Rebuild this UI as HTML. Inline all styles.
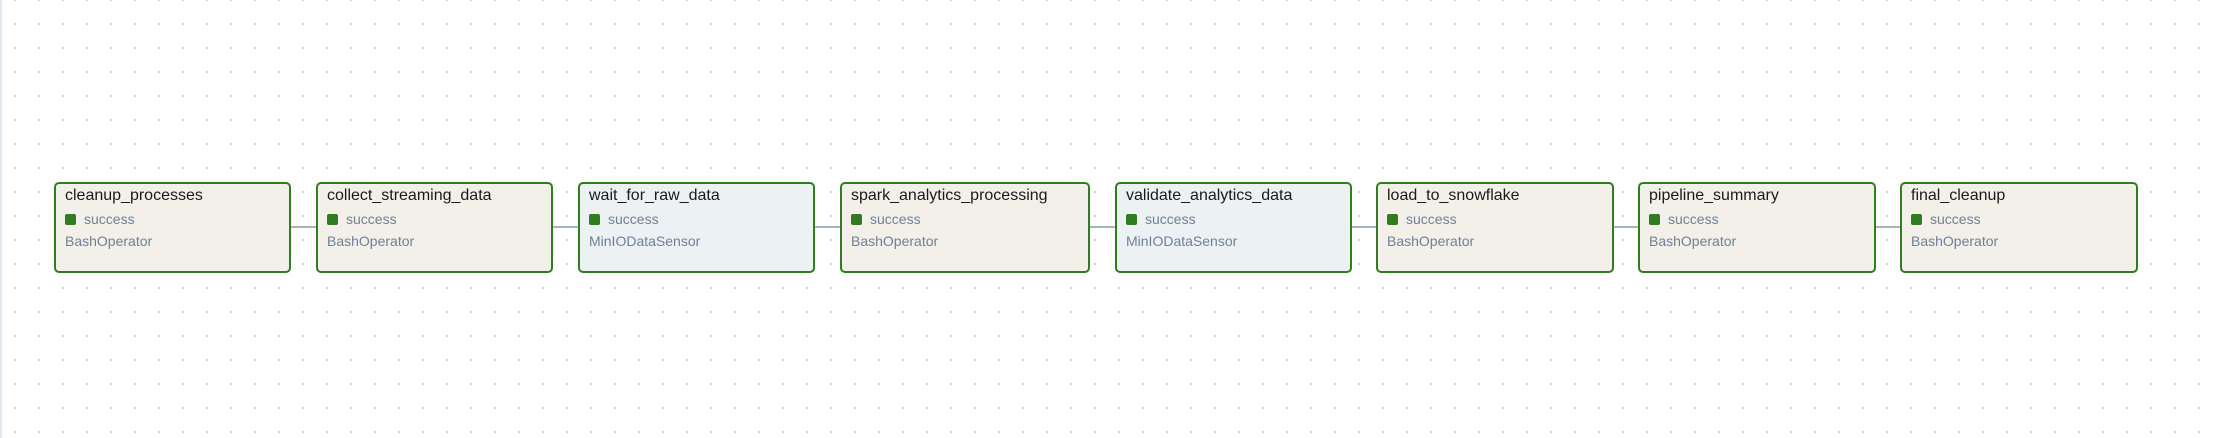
<!DOCTYPE html>
<html><head><style>
html,body{margin:0;padding:0;}
body{width:2220px;height:438px;position:relative;overflow:hidden;background:#fff;
background-image:radial-gradient(circle,#c4c8cc 0.9px,transparent 1.2px);
background-size:24px 24px;background-position:3px -12px;
font-family:"Liberation Sans",sans-serif;}
.lb{position:absolute;left:0;top:0;width:2px;height:438px;background:#e2e8f0;}
.n{position:absolute;top:182px;height:91px;border:2.5px solid #2f7d1f;border-radius:5px;box-sizing:border-box;background:#f2f0e9;}
.n.s{background:#ecf1f4;}
.t{position:absolute;left:9px;top:3px;font-size:16px;color:#1a1a1a;white-space:nowrap;}
.st{position:absolute;left:9px;top:27px;font-size:14px;color:#718096;}
.st i{display:inline-block;width:11px;height:11px;background:#2f7d1f;border-radius:2px;margin-right:8px;vertical-align:-1px;}
.op{position:absolute;left:9px;top:49px;font-size:14px;color:#718096;}
.e{position:absolute;top:226px;height:2px;background:#a8b4c4;}
</style></head><body>
<div class="lb"></div>
<div class="e" style="left:290px;width:26px"></div>
<div class="e" style="left:552px;width:26px"></div>
<div class="e" style="left:814px;width:26px"></div>
<div class="e" style="left:1089px;width:27px"></div>
<div class="e" style="left:1351px;width:25px"></div>
<div class="e" style="left:1613px;width:25px"></div>
<div class="e" style="left:1875px;width:25px"></div>
<div class="n" style="left:54px;width:237px"><div class="t">cleanup_processes</div><div class="st"><i></i>success</div><div class="op">BashOperator</div></div>
<div class="n" style="left:316px;width:237px"><div class="t">collect_streaming_data</div><div class="st"><i></i>success</div><div class="op">BashOperator</div></div>
<div class="n s" style="left:578px;width:237px"><div class="t">wait_for_raw_data</div><div class="st"><i></i>success</div><div class="op">MinIODataSensor</div></div>
<div class="n" style="left:840px;width:250px"><div class="t">spark_analytics_processing</div><div class="st"><i></i>success</div><div class="op">BashOperator</div></div>
<div class="n s" style="left:1115px;width:237px"><div class="t">validate_analytics_data</div><div class="st"><i></i>success</div><div class="op">MinIODataSensor</div></div>
<div class="n" style="left:1376px;width:238px"><div class="t">load_to_snowflake</div><div class="st"><i></i>success</div><div class="op">BashOperator</div></div>
<div class="n" style="left:1638px;width:238px"><div class="t">pipeline_summary</div><div class="st"><i></i>success</div><div class="op">BashOperator</div></div>
<div class="n" style="left:1900px;width:238px"><div class="t">final_cleanup</div><div class="st"><i></i>success</div><div class="op">BashOperator</div></div>
</body></html>
